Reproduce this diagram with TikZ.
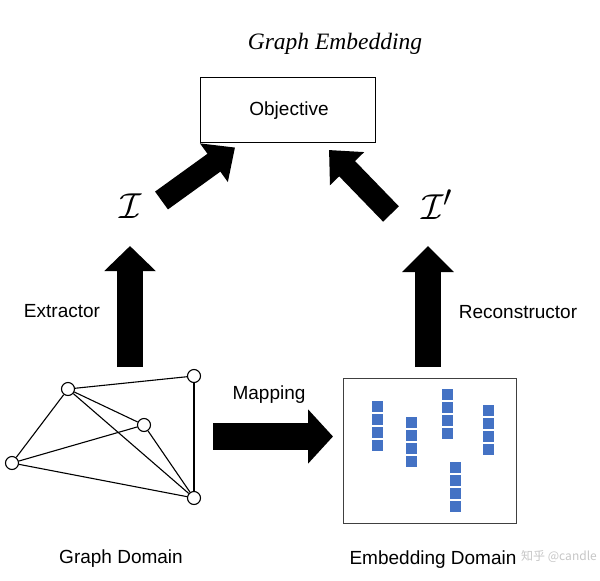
\documentclass[tikz,border=0pt]{standalone}
\usepackage{fontspec}
\setmainfont{Liberation Sans}
\newfontfamily\titlefont{Liberation Serif}
\newfontfamily\cjkfont{Noto Sans CJK SC}
\usetikzlibrary{arrows.meta}
\definecolor{sqblue}{HTML}{4472C4}
\begin{document}
\begin{tikzpicture}[x=1pt,y=-1pt,
  lbl/.style={inner sep=0pt,font=\fontsize{19}{22}\selectfont},
  calI/.style={inner sep=0pt,scale=1.45,font=\fontsize{24.88}{30}\selectfont},
  gnode/.style={circle,draw=black,line width=1.1pt,fill=white,minimum size=13pt,inner sep=0pt},
  gedge/.style={line width=1.1pt,black},
  blockarrow/.style={line width=#1pt,line cap=butt,black},
  sq/.style={fill=sqblue,draw=none}]
\useasboundingbox (0,0) rectangle (600,581);
% title
\node[inner sep=0pt] (title) at (335,44) {\titlefont\itshape\fontsize{23.5}{26}\selectfont Graph Embedding};
% objective box
\node[draw=black,line width=0.9pt,minimum width=175pt,minimum height=65pt,inner sep=0pt] (obj) at (287.5,109.5) {};
\node[lbl] (objtxt) at (289,111) {Objective};
% I and I'
\node[calI] (I) at (131,206) {$\mathcal{I}$};
\node[calI] (Ip) at (437,205) {$\mathcal{I}'$};
% labels
\node[lbl] (extr) at (62,311) {Extractor};
\node[lbl] (recon) at (518,312) {Reconstructor};
\node[lbl] (map) at (269,395) {Mapping};
\node[lbl] (gdom) at (121,559) {Graph Domain};
\node[lbl] (edom) at (433,560) {Embedding Domain};
\node[inner sep=0pt,text=gray!45,anchor=east] (wm) at (597,556) {\cjkfont\fontsize{12}{14}\selectfont 知乎 @candle};
% graph
\node[gnode] (A) at (68,389) {};
\node[gnode] (B) at (194,376) {};
\node[gnode] (C) at (144,425) {};
\node[gnode] (D) at (12,463) {};
\node[gnode] (E) at (194,498) {};
\draw[gedge] (A) -- (B);
\draw[gedge] (A) -- (C);
\draw[gedge] (A) -- (D);
\draw[gedge] (A) -- (E);
\draw[gedge] (C) -- (D);
\draw[gedge] (C) -- (E);
\draw[gedge] (D) -- (E);
\draw[gedge] (B) -- (E);
% embedding box
\node[draw=black!75,line width=1.4pt,minimum width=173pt,minimum height=145pt,inner sep=0pt] (emb) at (430,451) {};
\foreach \x/\y in {372/401,406/417,442/389,483/405,450/462}{
  \foreach \k in {0,1,2,3}{
    \fill[sq] (\x,\y+13*\k) rectangle ++(11,11);
  }
}
% block arrows
\coordinate (la0) at (130,367);
\coordinate (la1) at (130,246);
\coordinate (ra0) at (428,367);
\coordinate (ra1) at (428,246);
\coordinate (ma0) at (213,436.5);
\coordinate (ma1) at (333,436.5);
\coordinate (da0) at (161.5,200.5);
\coordinate (da1) at (235,147.5);
\coordinate (db0) at (391,214);
\coordinate (db1) at (329,150);
\draw[blockarrow=26,-{Triangle[width=50pt,length=25pt]}] (la0) -- (la1);
\draw[blockarrow=26,-{Triangle[width=50pt,length=26pt]}] (ra0) -- (ra1);
\draw[blockarrow=27,-{Triangle[width=53pt,length=25pt]}] (ma0) -- (ma1);
\draw[blockarrow=22,-{Triangle[width=46pt,length=26pt]}] (da0) -- (da1);
\draw[blockarrow=22,-{Triangle[width=46pt,length=26pt]}] (db0) -- (db1);
\end{tikzpicture}
\end{document}
